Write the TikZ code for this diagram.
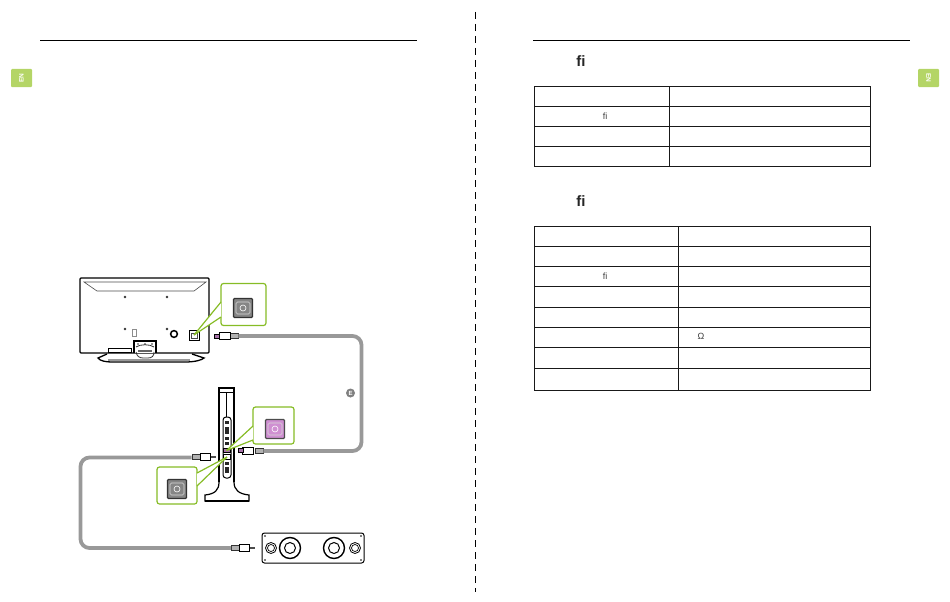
\documentclass[tikz,border=0pt]{standalone}
\usepackage{fontspec}
\setmainfont{Liberation Sans}
\definecolor{tabGreen}{HTML}{B4D566}
\definecolor{callGreen}{HTML}{86BC25}
\definecolor{cableGray}{HTML}{999999}
\definecolor{portPurple}{HTML}{CF8FD1}
\begin{document}
\begin{tikzpicture}[
      x=1pt,y=-1pt,
      tabBox/.style={fill=tabGreen,rounded corners=1pt,minimum width=21pt,minimum height=18pt,inner sep=0pt,text=white,font=\bfseries\fontsize{6.5}{6.5}\selectfont},
      callBox/.style={draw=callGreen,fill=white,line width=1.2pt,rounded corners=2.5pt,inner sep=0pt},
      callLine/.style={draw=callGreen,line width=1.2pt},
      iconBox/.style={draw=black!80,fill=black!48,line width=1.2pt,rounded corners=1pt,minimum size=19pt,inner sep=0pt},
      iconPurple/.style={draw=black!70,fill=portPurple,line width=1.2pt,rounded corners=1pt,minimum size=19pt,inner sep=0pt},
      iconRing/.style={draw=white!85!black,line width=.6pt,rounded corners=1.5pt},
      cable/.style={cableGray,line width=3.8pt,rounded corners=9pt},
      plugBody/.style={draw=black,fill=white,line width=.8pt,minimum width=10.5pt,minimum height=7pt,inner sep=0pt},
      plugCollar/.style={draw=black!80,fill=black!30,line width=.7pt,minimum width=8pt,minimum height=5pt,inner sep=0pt},
      plugTip/.style={fill=black!70,minimum width=5pt,minimum height=2.5pt,inner sep=0pt},
      plugPurple/.style={fill=portPurple!80!black,draw=black,line width=.5pt,minimum width=5pt,minimum height=4pt,inner sep=0pt},
      tvPort/.style={draw=black,fill=white,line width=.8pt,minimum size=10pt,inner sep=0pt},
      tableLine/.style={draw=black!90,line width=.9pt},
    ]
    \useasboundingbox (0,0) rectangle (950,602);

    % page furniture
    \draw[black,line width=.9pt] (40,40.5) -- (417,40.5);
    \draw[black,line width=.9pt] (533,40.5) -- (910,40.5);
    \draw[black,line width=.8pt,dash pattern=on 7pt off 5pt] (475.5,12) -- (475.5,592);
    \node[tabBox] (tabLeft) at (21.5,78) {\rotatebox{90}{EN}};
    \node[tabBox] (tabRight) at (928.5,78) {\rotatebox{-90}{EN}};

    % first table
    \node[font=\bfseries\fontsize{15}{15}\selectfont,black!85] (headA) at (581,61) {ﬁ};
    \draw[tableLine] (534,86.5) rectangle (870,166);
    \draw[tableLine] (669,86.5) -- (669,166);
    \foreach \y in {106.5,126.5,146.5} {
      \draw[tableLine] (534,\y) -- (870,\y);
    }
    \node[font=\fontsize{9}{9}\selectfont,black!75] (fiA) at (605,116) {ﬁ};

    % second table
    \node[font=\bfseries\fontsize{15}{15}\selectfont,black!85] (headB) at (581,201) {ﬁ};
    \draw[tableLine] (534,226.5) rectangle (870,390);
    \draw[tableLine] (678,226.5) -- (678,390);
    \foreach \y in {246.5,266.5,286.5,307,327,347,368.5} {
      \draw[tableLine] (534,\y) -- (870,\y);
    }
    \node[font=\fontsize{9}{9}\selectfont,black!75] (fiB) at (605,276) {ﬁ};
    \node[font=\fontsize{9}{9}\selectfont,black!75] (ohm) at (701,336) {Ω};

    % television
    \draw[black,line width=1.1pt,rounded corners=1pt] (80,353) -- (80,278) -- (209,278) -- (209,353) -- cycle;
    \draw[black!70,line width=.6pt] (84,282) -- (206,282) -- (194,291) -- (97,291) -- cycle;
    \foreach \x/\y in {125/297,167/297,125/329,167/329} {
      \fill[black!80] (\x,\y) circle (1.3);
    }
    \draw[black!45,line width=.8pt] (132,329) rectangle (136,336);
    \draw[black,line width=1.5pt] (174,334) circle (3.4);
    \draw[black,line width=.9pt,fill=white] (108,348) rectangle (131,352);
    \draw[black,line width=1.3pt,fill=white] (107,354) -- (98,358) .. controls (100,361) and (106,362) .. (112,362) -- (185,362) .. controls (195,362) and (202,360) .. (204,358) -- (192,354);
    \fill[black!40] (108,359) rectangle (190,361);
    \draw[black,line width=1.1pt,fill=white] (134,353) -- (134,341) -- (156,341) -- (156,353);
    \draw[black!80,line width=.8pt] (136,347) .. controls (140,344) and (150,344) .. (154,347) (136,352) .. controls (137,356) and (139,358) .. (143,358) -- (148,358) .. controls (152,358) and (154,356) .. (154,352);
    \fill[black!60] (138,350) rectangle (152,352);
    \foreach \x in {138,145,152} {
      \fill[black!80] (\x,344) circle (.8);
    }
    \node[tvPort] (tvPort) at (194,335) {};
    \draw[black!70,line width=.7pt] (191,333) rectangle (197,338);

    % callout on the television
    \node[callBox,minimum width=45pt,minimum height=42pt] (callTv) at (243.5,304.5) {};
    \coordinate (callTvA) at (221,302);
    \coordinate (callTvB) at (221,317);
    \fill[white] (tvPort.center) -- (callTvA) -- (callTvB) -- cycle;
    \draw[callLine] (tvPort.center) -- (callTvA);
    \draw[callLine] (tvPort.center) -- (callTvB);
    \node[iconBox] (iconTv) at (243,308) {};
    \draw[iconRing] (236,302) rectangle (250,314);
    \draw[white,line width=.6pt] (iconTv.center) circle (3);

    % sound bar tower
    \draw[black,line width=1.2pt] (219,482) -- (219,388) -- (234,388) -- (234,482);
    \draw[black,line width=.6pt] (220,392) -- (233,392) (226.5,392) -- (226.5,417);
    \draw[black,line width=1pt,rounded corners=3pt,fill=white] (223,417) rectangle (231,478);
    \foreach \y/\h in {422/1.5,430/3.5,438/1.5,443/1.5,463/1.5,470/3} {
      \fill[black!85] (225,\y-\h) rectangle (229,\y+\h);
    }
    \draw[black,line width=1.2pt,fill=white] (219,482) .. controls (219,490) and (215,494) .. (205,495) -- (205,501) -- (249,501) -- (249,495) .. controls (239,494) and (234,490) .. (234,482);
    \fill[black] (205,499.5) rectangle (249,501.5);
    \node[fill=portPurple!80!black,draw=black,line width=.5pt,minimum width=7pt,minimum height=4pt,inner sep=0pt] (portIn) at (226.5,450.5) {};
    \node[fill=white,draw=black,line width=.8pt,minimum width=7pt,minimum height=5pt,inner sep=0pt] (portOut) at (227,457) {};

    % callout purple
    \node[callBox,minimum width=41pt,minimum height=37pt] (callIn) at (273.5,425.5) {};
    \coordinate (callInA) at (253,426);
    \coordinate (callInB) at (253,440);
    \fill[white] (portIn.center) -- (callInA) -- (callInB) -- cycle;
    \draw[callLine] (portIn.center) -- (callInA);
    \draw[callLine] (portIn.center) -- (callInB);
    \node[iconPurple] (iconIn) at (275,429) {};
    \draw[iconRing] (268,423) rectangle (282,435);
    \draw[white,line width=.6pt] (iconIn.center) circle (3);

    % callout grey
    \node[callBox,minimum width=40pt,minimum height=37pt] (callOut) at (177,485.5) {};
    \coordinate (callOutA) at (197,473);
    \coordinate (callOutB) at (197,486);
    \fill[white] (portOut.center) -- (callOutA) -- (callOutB) -- cycle;
    \draw[callLine] (portOut.center) -- (callOutA);
    \draw[callLine] (portOut.center) -- (callOutB);
    \node[iconBox] (iconOut) at (177,489) {};
    \draw[iconRing] (170,483) rectangle (184,495);
    \draw[white,line width=.6pt] (iconOut.center) circle (3);

    % speaker
    \draw[black,line width=1pt,rounded corners=2.5pt] (262,533) rectangle (364,563);
    \foreach \x/\y in {265/536,361/536,265/560,361/560} {
      \fill[black] (\x,\y) circle (.9);
    }
    \foreach \x in {271,355} {
      \draw[black,line width=.8pt] (\x,548) circle (5.5);
      \draw[black,line width=.7pt] (\x,548) circle (3.5);
    }
    \foreach \x in {290,334} {
      \draw[black,line width=1.4pt] (\x,548) circle (10.5);
      \draw[black,line width=1pt] (\x,548) circle (5.5);
    }

    % plugs
    \node[plugCollar] (collarTv) at (234,336) {};
    \node[plugBody] (bodyTv) at (225,336) {};
    \node[plugPurple] (tipTv) at (216.5,336) {};

    \node[plugCollar] (collarIn) at (259,450.5) {};
    \node[plugBody] (bodyIn) at (248,450.5) {};
    \node[plugPurple] (tipIn) at (240.5,450.5) {};

    \node[plugCollar] (collarOut) at (196,457) {};
    \node[plugBody] (bodyOut) at (205.5,457) {};
    \node[plugTip] (tipOut) at (213.5,457) {};

    \node[plugCollar] (collarSp) at (235.5,548) {};
    \node[plugBody] (bodySp) at (244.5,548) {};
    \node[plugTip] (tipSp) at (252.5,548) {};

    % cables
    \coordinate (bendA) at (361.5,336);
    \coordinate (bendB) at (361.5,451);
    \coordinate (bendC) at (80.5,457.5);
    \coordinate (bendD) at (80.5,548);
    \draw[cable] (collarTv.east) -- (bendA) -- (bendB) -- (collarIn.east |- bendB);
    \draw[cable] (collarOut.west |- bendC) -- (bendC) -- (bendD) -- (collarSp.west);

    \node[circle,fill=black!50,minimum size=9pt,inner sep=0pt,text=white,font=\bfseries\fontsize{6}{6}\selectfont] (cableMark) at (350.5,393) {E};
\end{tikzpicture}
\end{document}
